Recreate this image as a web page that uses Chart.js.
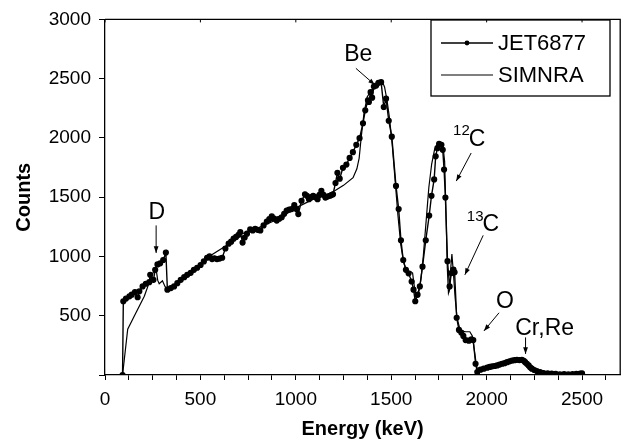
<!DOCTYPE html>
<html>
<head>
<meta charset="utf-8">
<script src="https://cdn.jsdelivr.net/npm/chart.js@4.4.0/dist/chart.umd.min.js"></script>
<style>
html, body { margin: 0; padding: 0; background: #fff; }
</style>
</head>
<body>
<canvas id="myChart" width="624" height="447"></canvas>
<script>
// measured spectrum (dots)
var jetEnergy = [92, 96, 110, 128, 140, 157, 171, 180, 197, 214, 232, 237, 254, 263, 275, 289, 305, 319,
    327, 345, 362, 379, 397, 415, 431, 449, 466, 483, 501, 518, 535, 548, 561, 574, 587, 600, 614,
    631, 648, 661, 674, 687, 700, 709, 721, 732, 744, 761, 774, 787, 800, 814, 831, 848, 861, 874,
    887, 900, 913, 926, 939, 952, 965, 978, 992, 1003, 1013, 1030, 1048, 1058, 1069, 1080, 1091,
    1103, 1114, 1124, 1134, 1145, 1155, 1166, 1178, 1187, 1195, 1208, 1218, 1230, 1247, 1265, 1282,
    1299, 1317, 1334, 1352, 1364, 1378, 1383, 1392, 1400, 1409, 1421, 1433, 1447, 1461, 1473, 1487,
    1503, 1525, 1539, 1551, 1563, 1577, 1591, 1607, 1617, 1626, 1638, 1650, 1664, 1681, 1699, 1711,
    1725, 1733, 1742, 1751, 1763, 1770, 1777, 1784, 1795, 1806, 1815, 1826, 1832, 1843, 1855, 1867,
    1878, 1890, 1907, 1920, 1930, 1942, 1951, 1968, 1985, 2003, 2016, 2029, 2042, 2055, 2068, 2081,
    2094, 2107, 2120, 2133, 2146, 2159, 2172, 2185, 2195, 2202, 2211, 2220, 2228, 2237, 2250, 2263,
    2280, 2298, 2320, 2341, 2362, 2384, 2406, 2428, 2450, 2470, 2490, 2500];
var jetCounts = [0, 622, 645, 664, 678, 700, 656, 706, 747, 770, 783, 845, 803, 887, 933, 942, 970, 1033,
    720, 733, 747, 775, 803, 825, 845, 862, 887, 905, 928, 958, 989, 1000, 978, 985, 978, 982, 989,
    1067, 1108, 1125, 1150, 1165, 1183, 1206, 1117, 1160, 1192, 1228, 1220, 1233, 1225, 1220, 1262, 1295, 1315, 1339,
    1320, 1303, 1318, 1331, 1360, 1387, 1395, 1400, 1433, 1400, 1358, 1470, 1525, 1512, 1483, 1500, 1512,
    1500, 1483, 1520, 1553, 1520, 1497, 1505, 1512, 1518, 1525, 1620, 1706, 1656, 1748, 1775, 1831,
    1880, 1942, 1998, 2123, 2233, 2317, 2303, 2386, 2340, 2433, 2442, 2465, 2470, 2261, 2331, 2145,
    2011, 1595, 1400, 1137, 970, 887, 858, 789, 720, 622, 678, 747, 914, 1137, 1345, 1512,
    1650, 1845, 1914, 1950, 1942, 1900, 1733, 1497, 960, 747, 860, 890, 867, 483, 380, 358,
    330, 295, 290, 300, 295, 95, 25, 45, 53, 62, 68, 73, 76, 81, 88, 95,
    100, 108, 115, 122, 125, 128, 126, 128, 120, 108, 95, 81, 65, 53, 42, 33,
    25, 17, 14, 12, 9, 6, 7, 6, 8, 10, 12, 14];

// simulation (plain line)
var simEnergy = [92, 119, 153, 206, 240, 262, 267, 276, 284, 301, 315, 327, 345, 400, 450, 500, 535, 645,
    700, 800, 900, 1000, 1100, 1150, 1200, 1250, 1300, 1320, 1332, 1343, 1357, 1374, 1395, 1416, 1439,
    1452, 1465, 1478, 1490, 1505, 1520, 1535, 1550, 1565, 1580, 1595, 1605, 1612, 1620, 1630, 1640,
    1655, 1668, 1683, 1697, 1712, 1727, 1742, 1757, 1772, 1780, 1788, 1794, 1800, 1806, 1812, 1818,
    1825, 1835, 1845, 1858, 1872, 1890, 1912, 1925, 1945, 1955, 1975, 2000, 2050, 2100, 2150, 2185,
    2210, 2240, 2270, 2300, 2350, 2420, 2500];
var simCounts = [0, 386, 495, 664, 817, 900, 905, 800, 770, 795, 745, 720, 733, 800, 860, 925, 990, 1100,
    1180, 1240, 1310, 1410, 1490, 1510, 1550, 1600, 1665, 1740, 1830, 2010, 2206, 2345, 2400, 2428, 2480,
    2480, 2430, 2317, 2180, 1950, 1650, 1350, 1100, 950, 880, 860, 870, 860, 760, 650, 660,
    800, 1000, 1300, 1580, 1780, 1900, 1950, 1955, 1920, 1800, 1300, 900, 690, 720, 900, 1020,
    880, 650, 480, 400, 370, 365, 365, 330, 100, 25, 40, 55, 78, 100, 118, 125,
    100, 55, 30, 18, 10, 6, 8];

var xLabelTicks = [0, 500, 1000, 1500, 2000, 2500];
var yLabelTicks = [500, 1000, 1500, 2000, 2500, 3000];

var FONT = "'Liberation Sans', Arial, sans-serif";

function pts(xs, ys) {
    return xs.map(function (v, i) { return { x: v, y: ys[i] }; });
}

// peak labels with arrows, positions in keV / counts
var notes = [
    { text: 'D', at: [271, 1372], from: [268, 1262], to: [268, 1030] },
    { text: 'Be', at: [1327, 2700], from: [1315, 2587], to: [1414, 2448] },
    { text: 'C', sup: '12', at: [1950, 1989], from: [1919, 1873], to: [1841, 1636] },
    { text: 'C', sup: '13', at: [2022, 1270], from: [1982, 1178], to: [1886, 845] },
    { text: 'O', at: [2096, 622], from: [2065, 525], to: [1986, 372] },
    { text: 'Cr,Re', at: [2304, 387], from: [2204, 317], to: [2204, 178] }
];

var extras = {
    id: 'extras',
    afterDraw: function (chart) {
        var ctx = chart.ctx, a = chart.chartArea, x = chart.scales.x, y = chart.scales.y;
        ctx.save();
        ctx.strokeStyle = '#000';
        ctx.fillStyle = '#000';

        // closing frame
        ctx.lineWidth = 1.3;
        ctx.beginPath();
        ctx.moveTo(a.left, a.top);
        ctx.lineTo(a.right, a.top);
        ctx.lineTo(a.right, a.bottom);
        ctx.stroke();
        ctx.lineWidth = 1;
        xLabelTicks.forEach(function (v) {
            var px = x.getPixelForValue(v);
            ctx.beginPath();
            ctx.moveTo(px, a.top);
            ctx.lineTo(px, a.top + 3);
            ctx.stroke();
        });

        // annotations
        notes.forEach(function (n) {
            var tx = x.getPixelForValue(n.at[0]), ty = y.getPixelForValue(n.at[1]);
            ctx.font = '23px ' + FONT;
            ctx.textAlign = 'center';
            ctx.textBaseline = 'middle';
            ctx.fillText(n.text, tx, ty);
            if (n.sup) {
                var w = ctx.measureText(n.text).width;
                ctx.font = '15px ' + FONT;
                ctx.textAlign = 'right';
                ctx.fillText(n.sup, tx - w / 2 + 1, ty - 8);
            }
            var x1 = x.getPixelForValue(n.from[0]), y1 = y.getPixelForValue(n.from[1]);
            var x2 = x.getPixelForValue(n.to[0]), y2 = y.getPixelForValue(n.to[1]);
            ctx.lineWidth = 1;
            ctx.beginPath();
            ctx.moveTo(x1, y1);
            ctx.lineTo(x2, y2);
            ctx.stroke();
            var ang = Math.atan2(y2 - y1, x2 - x1), L = 7, h = 0.35;
            ctx.beginPath();
            ctx.moveTo(x2, y2);
            ctx.lineTo(x2 - L * Math.cos(ang - h), y2 - L * Math.sin(ang - h));
            ctx.lineTo(x2 - L * Math.cos(ang + h), y2 - L * Math.sin(ang + h));
            ctx.closePath();
            ctx.fill();
        });

        // legend box
        var ds = chart.data.datasets;
        ctx.lineWidth = 1.3;
        ctx.strokeRect(431, 20, 179, 76);
        ctx.font = '22px ' + FONT;
        ctx.textAlign = 'left';
        ctx.textBaseline = 'middle';
        [43, 75].forEach(function (ly, i) {
            ctx.lineWidth = ds[i].borderWidth;
            ctx.beginPath();
            ctx.moveTo(441, ly);
            ctx.lineTo(493, ly);
            ctx.stroke();
            if (ds[i].pointRadius > 0) {
                ctx.beginPath();
                ctx.arc(467, ly, ds[i].pointRadius, 0, Math.PI * 2);
                ctx.fill();
            }
            ctx.fillText(ds[i].label, 498, ly + 1);
        });
        ctx.restore();
    }
};

var ctx = document.getElementById('myChart').getContext('2d');
var myChart = new Chart(ctx, {
    type: 'scatter',
    data: {
        datasets: [{
            label: 'JET6877',
            data: pts(jetEnergy, jetCounts),
            showLine: true,
            borderColor: '#000',
            backgroundColor: '#000',
            borderWidth: 1.4,
            pointRadius: 2.4,
            pointHoverRadius: 2.4
        },
        {
            label: 'SIMNRA',
            data: pts(simEnergy, simCounts),
            showLine: true,
            borderColor: '#000',
            backgroundColor: '#000',
            borderWidth: 1.2,
            pointRadius: 0
        }]
    },
    options: {
        responsive: false,
        animation: false,
        devicePixelRatio: 1,
        layout: { padding: { left: 0, top: 15, right: 1, bottom: 0 } },
        plugins: {
            legend: { display: false },
            tooltip: { enabled: false }
        },
        scales: {
            x: {
                type: 'linear',
                min: 0,
                max: 2700,
                afterFit: function (s) { s.height = 72; },
                border: { color: '#000', width: 1.3 },
                grid: { drawOnChartArea: false, drawTicks: true, tickLength: 5, color: '#000' },
                ticks: {
                    stepSize: 125,
                    autoSkip: false,
                    includeBounds: false,
                    maxRotation: 0,
                    padding: 8,
                    color: '#000',
                    font: { family: FONT, size: 19 },
                    callback: function (v) { return xLabelTicks.indexOf(v) >= 0 ? String(v) : ''; }
                },
                title: {
                    display: true,
                    text: 'Energy (keV)',
                    color: '#000',
                    padding: { top: 0, bottom: 6 },
                    font: { family: FONT, size: 20, weight: 'bold' }
                }
            },
            y: {
                min: 0,
                max: 3000,
                afterFit: function (s) { s.width = 105; },
                border: { color: '#000', width: 1.3 },
                grid: { drawOnChartArea: false, drawTicks: true, tickLength: 6, color: '#000' },
                ticks: {
                    stepSize: 500,
                    padding: 8,
                    color: '#000',
                    font: { family: FONT, size: 19 },
                    callback: function (v) { return yLabelTicks.indexOf(v) >= 0 ? String(v) : ''; }
                },
                title: {
                    display: true,
                    text: 'Counts',
                    color: '#000',
                    padding: { top: 12, bottom: 0 },
                    font: { family: FONT, size: 20, weight: 'bold' }
                }
            }
        }
    },
    plugins: [extras]
});
</script>
</body>
</html>
